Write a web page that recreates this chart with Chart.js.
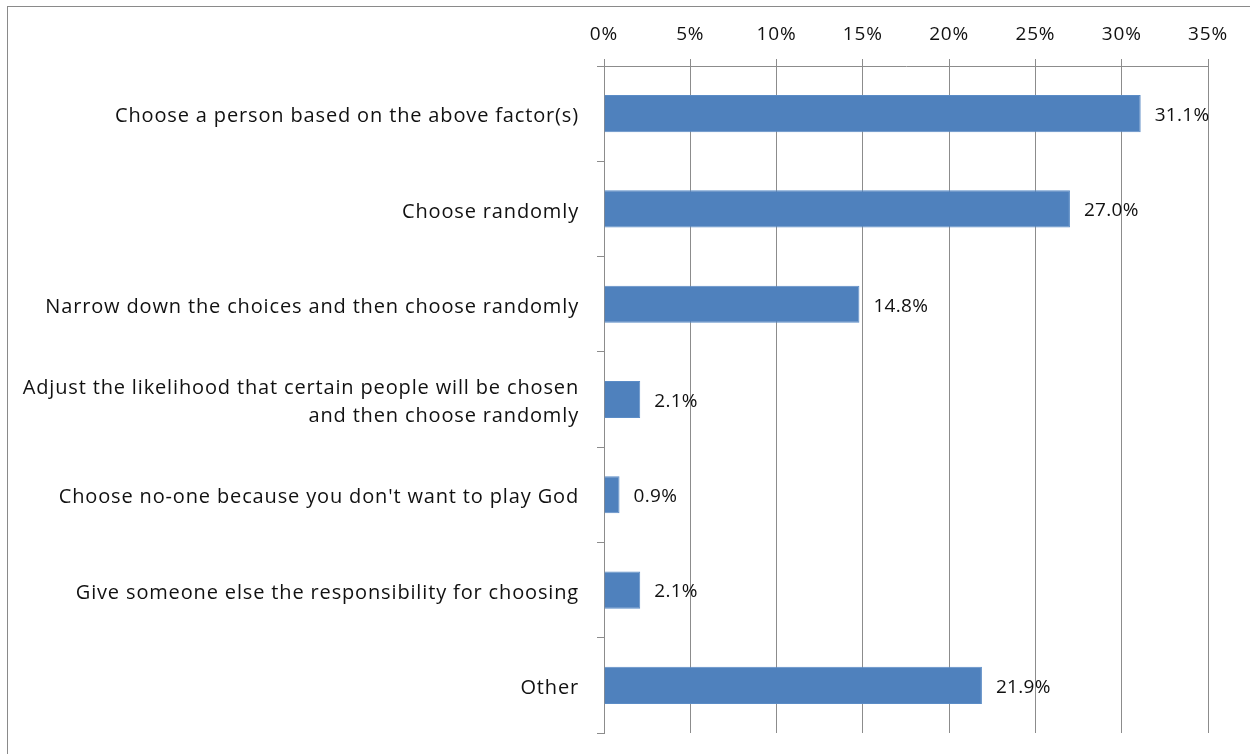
<!DOCTYPE html>
<html>
<head>
<meta charset="utf-8">
<script src="https://cdn.jsdelivr.net/npm/chart.js@4/dist/chart.umd.min.js"></script>
<style>
  html, body { margin: 0; padding: 0; background: #fff; }
  #wrap { position: relative; width: 1250px; height: 754px; overflow: hidden; }
  #frame { position: absolute; left: 7px; top: 6px; width: 1300px; height: 800px; border: 1px solid #8a8a8a; box-sizing: border-box; }
  canvas { position: absolute; left: 0; top: 0; }
</style>
</head>
<body>
<div id="wrap">
  <div id="frame"></div>
  <canvas id="chart" width="1250" height="754"></canvas>
</div>
<script>
  // 类别与数值
  const categories = [
    'Choose a person based on the above factor(s)',
    'Choose randomly',
    'Narrow down the choices and then choose randomly',
    ['Adjust the likelihood that certain people will be chosen', 'and then choose randomly'],
    "Choose no-one because you don't want to play God",
    'Give someone else the responsibility for choosing',
    'Other'
  ];
  const shares = [31.1, 27.0, 14.8, 2.1, 0.9, 2.1, 21.9];
  const tickMax = 35;
  const tickStep = 5;

  const FONT = '"Open Sans", Lato, sans-serif';
  const FONT_SIZE = 20;
  const SPACING = '0.85px';
  const GRID = '#8c8c8c';

  // 字间距（模拟原图较宽的字体）
  const spacing = {
    id: 'spacing',
    beforeLayout(chart) { chart.ctx.letterSpacing = SPACING; },
    beforeDraw(chart) { chart.ctx.letterSpacing = SPACING; }
  };

  // 数值标签
  const valueLabels = {
    id: 'valueLabels',
    afterDatasetsDraw(chart) {
      const ctx = chart.ctx;
      const meta = chart.getDatasetMeta(0);
      ctx.save();
      ctx.font = '19px ' + FONT;
      ctx.letterSpacing = '0.3px';
      ctx.fillStyle = '#111';
      ctx.textAlign = 'left';
      ctx.textBaseline = 'middle';
      meta.data.forEach((bar, i) => {
        ctx.fillText(shares[i].toFixed(1) + '%', bar.x + 14, bar.y + 2);
      });
      ctx.restore();
    }
  };

  new Chart(document.getElementById('chart'), {
    type: 'bar',
    data: {
      labels: categories,
      datasets: [{
        data: shares,
        backgroundColor: '#4F81BD',
        borderColor: '#5b8cc6',
        borderWidth: 1,
        barPercentage: 0.39,
        categoryPercentage: 1
      }]
    },
    options: {
      indexAxis: 'y',
      responsive: false,
      animation: false,
      layout: { padding: { left: 0, right: 42, top: 0, bottom: 21 } },
      plugins: {
        legend: { display: false },
        tooltip: { enabled: false }
      },
      scales: {
        x: {
          position: 'top',
          min: 0,
          max: tickMax,
          afterFit: s => { s.height = 66; },
          ticks: {
            stepSize: tickStep,
            padding: 13,
            color: '#111',
            font: { family: FONT, size: 19 },
            callback: v => v + '%'
          },
          grid: { color: GRID, lineWidth: 1, tickLength: 7 },
          border: { color: GRID }
        },
        y: {
          afterFit: s => {
            s.width = 604;
            s.paddingTop = 0;
            s.paddingBottom = 0;
          },
          ticks: {
            padding: 18,
            labelOffset: 3,
            color: '#111',
            font: { family: FONT, size: FONT_SIZE, lineHeight: 1.4 }
          },
          grid: { offset: true, drawOnChartArea: false, color: GRID, tickLength: 7 },
          border: { color: GRID }
        }
      }
    },
    plugins: [spacing, valueLabels]
  });
</script>
</body>
</html>
